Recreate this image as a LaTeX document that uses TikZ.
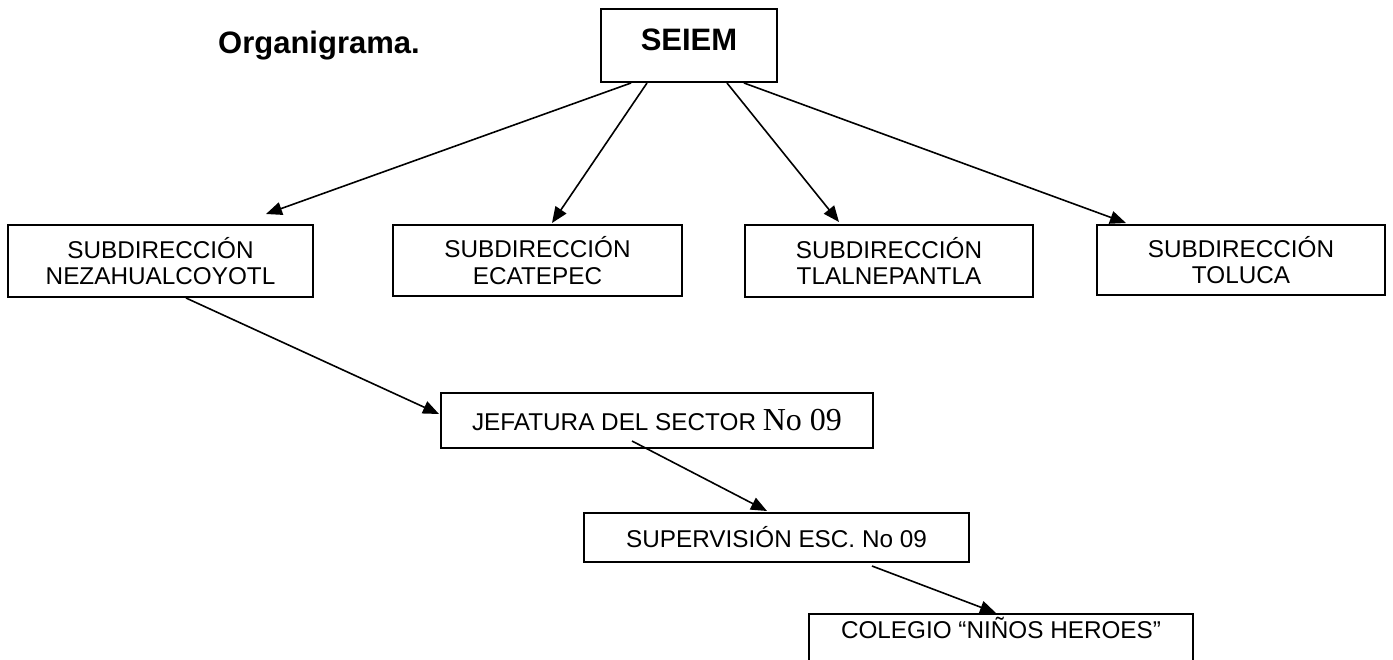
\documentclass[tikz,border=0pt]{standalone}
\usepackage{fontspec}
\setmainfont{Liberation Sans}
\newfontfamily\serifnum{Liberation Serif}
\usetikzlibrary{arrows.meta,calc}
\begin{document}
\begin{tikzpicture}[x=1pt,y=-1pt,
  box/.style={draw,line width=2pt,inner sep=0pt,align=center,
    font=\fontsize{24.3}{26.5}\selectfont},
  conn/.style={line width=1.6pt,-{Triangle[length=16pt,width=13pt]}}]
\useasboundingbox (0,0) rectangle (1393,659);
\clip (0,0) rectangle (1393,659);
\node[anchor=base west,inner sep=0pt,font=\fontsize{31}{36}\selectfont\bfseries] (title) at (218,53) {Organigrama.};
\node[box,minimum width=176pt,minimum height=73pt,font=\fontsize{31}{36}\selectfont\bfseries] (seiem) at (689,45.5) {\raisebox{11pt}{SEIEM}};
\node[box,minimum width=305pt,minimum height=72pt] (nez) at (160.5,261) {SUBDIRECCIÓN\\NEZAHUALCOYOTL};
\node[box,minimum width=289pt,minimum height=71pt] (eca) at (537.5,260.5) {SUBDIRECCIÓN\\ECATEPEC};
\node[box,minimum width=288pt,minimum height=72pt] (tla) at (889,261) {SUBDIRECCIÓN\\TLALNEPANTLA};
\node[box,minimum width=288pt,minimum height=70pt] (tol) at (1241,260) {SUBDIRECCIÓN\\TOLUCA};
\node[box,minimum width=432pt,minimum height=55pt] (jef) at (657,420.5) {JEFATURA DEL SECTOR {\serifnum\fontsize{32}{32}\selectfont No 09}};
\node[box,minimum width=385pt,minimum height=49pt] (sup) at (776.5,537.5) {SUPERVISIÓN ESC. No 09};
\node[box,minimum width=384pt,minimum height=70pt] (col) at (1001,649) {\raisebox{42pt}{COLEGIO “NIÑOS HEROES”}};

\draw[conn] ($(seiem.south west)+(31,0)$) -- ($(nez.north west)+(259,-10)$);
\draw[conn] ($(seiem.south west)+(47,0)$) -- ($(eca.north west)+(160,-1)$);
\draw[conn] ($(seiem.south west)+(127,0)$) -- ($(tla.north west)+(95,-2)$);
\draw[conn] ($(seiem.south west)+(144,0)$) -- ($(tol.north west)+(30,-1)$);
\draw[conn] ($(nez.south west)+(179,0)$) -- ($(jef.north west)+(-1,22)$);
\draw[conn] ($(jef.south west)+(192,-8)$) -- ($(sup.north west)+(184,-1)$);
\draw[conn] ($(sup.south west)+(289,3)$) -- ($(col.north west)+(188,0)$);
\end{tikzpicture}
\end{document}
